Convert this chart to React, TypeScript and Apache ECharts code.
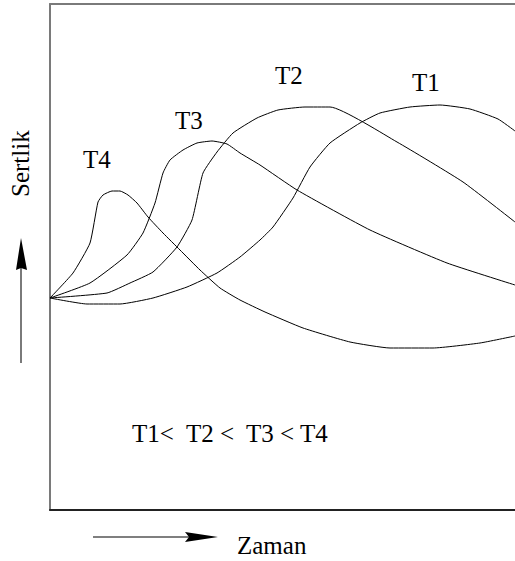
import React, { useEffect, useRef } from "react";
import * as echarts from "echarts";

// x = time (arbitrary units), y = hardness (arbitrary units, 0 = start level)
const t1X = [0, 37, 70, 103, 137, 167, 190, 210, 223, 243, 260, 280, 310, 330, 360, 390, 420, 448, 465];
const t1Y = [0, -6, -6, 0, 11, 25, 41, 58, 71, 100, 131, 155, 175, 185, 191, 193, 189, 179, 167];

const t2X = [0, 57, 80, 103, 127, 142, 153, 167, 183, 207, 228, 255, 280, 347, 413, 465];
const t2Y = [0, 5, 15, 26, 51, 78, 125, 146, 165, 180, 188, 191, 191, 156, 116, 76];

const t3X = [0, 40, 77, 93, 105, 113, 120, 133, 147, 162, 177, 190, 210, 247, 320, 397, 465];
const t3Y = [0, 15, 43, 65, 95, 125, 138, 148, 155, 157, 154, 145, 133, 108, 68, 35, 13];

const t4X = [0, 23, 40, 48, 53, 62, 70, 78, 87, 98, 113, 130, 150, 170, 190, 215, 253, 300, 340, 383, 430, 465];
const t4Y = [0, 25, 55, 96, 103, 107, 107, 103, 95, 81, 65, 48, 28, 10, -2, -14, -30, -44, -50, -50, -45, -38];

const seriesNames = ["T1", "T2", "T3", "T4"];
const yAxisTitle = "Sertlik";
const xAxisTitle = "Zaman";
const orderText = "T1<  T2 <  T3 < T4";

const zip = (xs: number[], ys: number[]) => xs.map((x, i) => [x, ys[i]]);

export default function App() {
  const ref = useRef<HTMLDivElement>(null);
  const textRef = useRef<HTMLDivElement>(null);
  useEffect(() => {
    if (!ref.current || !textRef.current) return;
    const chart = echarts.init(ref.current, undefined, { renderer: "svg" });
    const textChart = echarts.init(textRef.current, undefined, { renderer: "svg" });
    const datasets = [zip(t1X, t1Y), zip(t2X, t2Y), zip(t3X, t3Y), zip(t4X, t4Y)];
    const FONT = "Liberation Serif";
    const FS = 25;
    const labelPos = [
      [412, 70],
      [275, 63],
      [175, 108],
      [83, 147],
    ];
    const mkTitle = (text: string, left: number, top: number) => ({
      text,
      left,
      top,
      padding: 0,
      textStyle: { fontFamily: FONT, fontSize: FS, fontWeight: "normal", color: "#000" },
    });
    chart.setOption({
      animation: false,
      backgroundColor: "#ffffff",
      grid: { left: 50, top: 4, right: 0, bottom: 51 },
      xAxis: [
        {
          type: "value",
          min: 0,
          max: 465,
          position: "bottom",
          axisLine: { show: true, onZero: false, lineStyle: { color: "#222", width: 2 } },
          axisTick: { show: false },
          axisLabel: { show: false },
          splitLine: { show: false },
        },
        {
          type: "value",
          min: 0,
          max: 465,
          position: "top",
          axisLine: { show: true, onZero: false, lineStyle: { color: "#7a7a7a", width: 2 } },
          axisTick: { show: false },
          axisLabel: { show: false },
          splitLine: { show: false },
        },
      ],
      yAxis: {
        type: "value",
        min: -212,
        max: 294,
        axisLine: { show: true, onZero: false, lineStyle: { color: "#7a7a7a", width: 2 } },
        axisTick: { show: false },
        axisLabel: { show: false },
        splitLine: { show: false },
      },
      series: datasets.map((d, i) => ({
        name: seriesNames[i],
        type: "line",
        xAxisIndex: 0,
        data: d,
        showSymbol: false,
        smooth: 0.15,
        lineStyle: { color: "#000", width: 1 },
        label: { show: false },
        silent: true,
      })),
      graphic: [
        {
          type: "line",
          shape: { x1: 21, y1: 363, x2: 21, y2: 268 },
          style: { stroke: "#7a7a7a", lineWidth: 2 },
        },
        {
          type: "polygon",
          shape: { points: [[21, 238], [16, 270], [21, 268], [27, 270]] },
          style: { fill: "#000" },
        },
        {
          type: "line",
          shape: { x1: 93, y1: 537, x2: 195, y2: 537 },
          style: { stroke: "#000", lineWidth: 1.2 },
        },
        {
          type: "polygon",
          shape: { points: [[218, 537], [185, 532], [189, 537], [185, 542]] },
          style: { fill: "#000" },
        },
      ],
    });
    textChart.setOption({
      animation: false,
      backgroundColor: "transparent",
      title: [
        ...seriesNames.map((n, i) => mkTitle(n, labelPos[i][0], labelPos[i][1])),
        mkTitle(orderText, 132, 421),
        mkTitle(xAxisTitle, 237, 533),
      ],
      graphic: [
        {
          type: "text",
          x: 8,
          y: 197,
          rotation: Math.PI / 2,
          style: { text: yAxisTitle, fontFamily: FONT, fontSize: FS, fill: "#000" },
        },
      ],
    });
    return () => {
      chart.dispose();
      textChart.dispose();
    };
  }, []);
  return (
    <div style={{ position: "absolute", left: 0, top: 0, width: 515, height: 561 }}>
      <div ref={ref} style={{ width: 515, height: 561, position: "absolute", left: 0, top: 0 }} />
      <div
        ref={textRef}
        style={{ width: 515, height: 561, position: "absolute", left: 0, top: 0, pointerEvents: "none" }}
      />
    </div>
  );
}
